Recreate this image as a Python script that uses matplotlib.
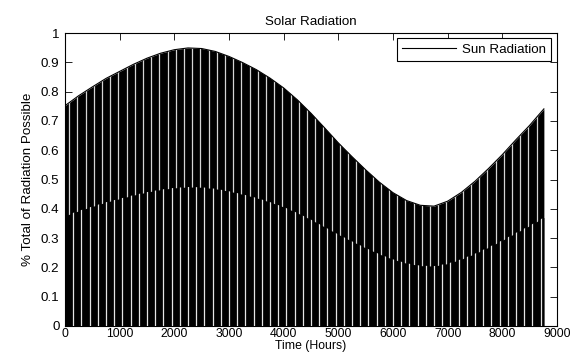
import numpy as np
import matplotlib
matplotlib.use('Agg')
import matplotlib.pyplot as plt

# Peak radiation envelope (hour of year -> fraction)
hours = list(range(0, 8750, 250)) + [8760]
peak = [0.752, 0.786, 0.816, 0.845, 0.869, 0.893, 0.914, 0.931, 0.943, 0.949,
        0.947, 0.937, 0.920, 0.899, 0.875, 0.846, 0.8125, 0.772, 0.726, 0.676,
        0.625, 0.578, 0.533, 0.491, 0.455, 0.428, 0.412, 0.409, 0.426, 0.456,
        0.494, 0.538, 0.585, 0.636, 0.685, 0.741]
xticks = [0, 1000, 2000, 3000, 4000, 5000, 6000, 7000, 8000, 9000]
yticks = [0, 0.1, 0.2, 0.3, 0.4, 0.5, 0.6, 0.7, 0.8, 0.9, 1]
ylabels = ['0', '0.1', '0.2', '0.3', '0.4', '0.5', '0.6', '0.7', '0.8', '0.9', '1']

plt.rcParams['font.family'] = ['Liberation Sans', 'DejaVu Sans']
fs = 9.6

fig = plt.figure(figsize=(5.74, 3.56), dpi=100)
ax = fig.add_axes([65/574, 1-326/356, 492/574, 293/356])

hours = np.array(hours)
peak = np.array(peak)

# daily cycle drawn as solid black, with aliasing stripes like the original
full = ax.fill_between(hours, 0, peak, color='black', lw=0, zorder=1)
ax.plot(hours, peak, color='black', lw=0.8, zorder=5, label='Sun Radiation')

stripe = 150
up = ax.vlines(np.arange(stripe / 2, 8760, stripe), 0, 1, colors='#d4d4d4', lw=0.9, zorder=2)
up.set_clip_path(full.get_paths()[0], ax.transData)
half = ax.fill_between(hours, 0, peak / 2, color='black', lw=0, zorder=3)
low = ax.vlines(np.arange(stripe, 8760, stripe), 0, 1, colors='#e4e4e4', lw=0.9, zorder=4)
low.set_clip_path(half.get_paths()[0], ax.transData)

ax.set_xlim(0, 9000)
ax.set_ylim(0, 1)
ax.set_xticks(xticks)
ax.set_xticklabels([str(t) for t in xticks])
ax.set_yticks(yticks)
ax.set_yticklabels(ylabels)
ax.tick_params(direction='in', top=True, right=True, length=5, width=0.6,
               labelsize=fs, pad=4)
ax.tick_params(axis='x', pad=1.5, labelsize=8.8)
for s in ax.spines.values():
    s.set_linewidth(0.8)

ax.set_title('Solar Radiation', fontsize=fs, pad=6)
ax.set_xlabel('Time (Hours)', fontsize=8.8, labelpad=0)
ax.set_ylabel('% Total of Radiation Possible', fontsize=fs, labelpad=5)

leg = ax.legend(loc='upper right', bbox_to_anchor=(486/492, 288/293), borderaxespad=0,
                fontsize=fs, handlelength=4.0, handletextpad=0.45, borderpad=0.4,
                fancybox=False, framealpha=1, edgecolor='black')
leg.get_frame().set_linewidth(0.8)

fig.savefig('out.png', dpi=100)
